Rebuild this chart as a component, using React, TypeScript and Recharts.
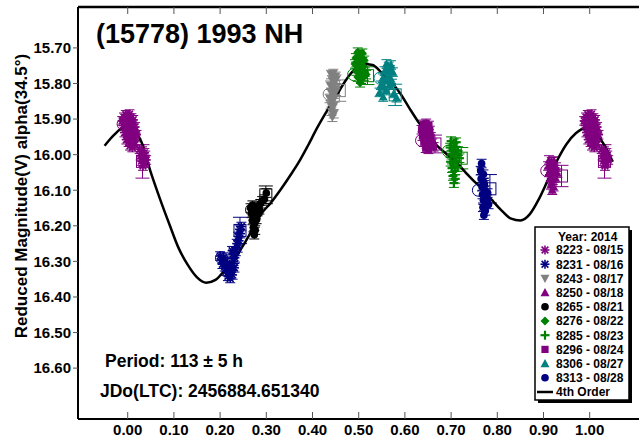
import React from "react";
import { ComposedChart, Scatter, Line, XAxis, YAxis, ErrorBar } from "recharts";

type Pt = [number, number];

const PHASE_TICKS = [0, 0.1, 0.2, 0.3, 0.4, 0.5, 0.6, 0.7, 0.8, 0.9, 1.0];
const MAG_TICKS = [15.7, 15.8, 15.9, 16.0, 16.1, 16.2, 16.3, 16.4, 16.5, 16.6];

// 4th order fourier fit
const fit4th: Pt[] = [
  [-0.05, 15.975], [-0.03, 15.945], [-0.01, 15.926], [0.01, 15.93], [0.03, 15.965],
  [0.05, 16.05], [0.07, 16.125], [0.09, 16.195], [0.11, 16.262], [0.13, 16.31],
  [0.15, 16.345], [0.17, 16.36], [0.19, 16.352], [0.21, 16.325], [0.23, 16.295],
  [0.25, 16.255], [0.27, 16.21], [0.29, 16.165], [0.31, 16.135], [0.33, 16.1],
  [0.35, 16.062], [0.37, 16.022], [0.39, 15.975], [0.41, 15.925], [0.43, 15.88],
  [0.45, 15.838], [0.47, 15.795], [0.49, 15.762], [0.51, 15.745], [0.53, 15.748],
  [0.55, 15.77], [0.57, 15.795], [0.59, 15.828], [0.61, 15.87], [0.63, 15.91],
  [0.65, 15.945], [0.67, 15.975], [0.69, 15.998], [0.71, 16.02], [0.73, 16.048],
  [0.75, 16.075], [0.77, 16.1], [0.79, 16.13], [0.81, 16.158], [0.83, 16.18],
  [0.85, 16.185], [0.87, 16.168], [0.89, 16.125], [0.91, 16.07], [0.93, 16.015],
  [0.95, 15.97], [0.97, 15.94], [0.99, 15.926], [1.01, 15.935], [1.03, 15.97],
  [1.05, 16.02],
];

const s8223: Pt[] = [
  [-0.012, 15.905], [-0.008, 15.895], [-0.004, 15.888], [0.0, 15.892], [0.004, 15.886],
  [0.008, 15.897], [0.012, 15.902], [-0.01, 15.918], [-0.005, 15.925], [0.001, 15.912],
  [0.006, 15.92], [0.011, 15.915], [0.016, 15.922], [-0.007, 15.938], [-0.002, 15.945],
  [0.003, 15.933], [0.009, 15.94], [0.014, 15.936], [0.019, 15.944], [-0.003, 15.958],
  [0.002, 15.965], [0.007, 15.955], [0.012, 15.962], [0.017, 15.952], [0.005, 15.975],
  [0.01, 15.98], [0.015, 15.972], [0.026, 15.985], [0.031, 15.99], [0.036, 15.995],
  [0.028, 16.003], [0.033, 16.008], [0.038, 16.002], [0.03, 16.018], [0.035, 16.022],
  [0.04, 16.015], [0.033, 16.032],
];
const s8231: Pt[] = [
  [0.2, 16.285], [0.204, 16.295], [0.208, 16.288], [0.212, 16.3], [0.205, 16.308],
  [0.21, 16.315], [0.215, 16.305], [0.218, 16.32], [0.213, 16.328], [0.22, 16.335],
  [0.224, 16.325], [0.217, 16.342], [0.222, 16.348], [0.227, 16.338], [0.225, 16.312],
  [0.229, 16.3], [0.232, 16.29], [0.228, 16.28], [0.234, 16.272], [0.238, 16.262],
  [0.236, 16.25], [0.241, 16.242], [0.239, 16.23], [0.244, 16.222], [0.242, 16.21],
  [0.246, 16.202], [0.231, 16.318], [0.226, 16.27],
];
const s8243: Pt[] = [
  [0.44, 15.775], [0.445, 15.772], [0.45, 15.78], [0.442, 15.79], [0.447, 15.795],
  [0.452, 15.788], [0.438, 15.805], [0.444, 15.81], [0.449, 15.815], [0.44, 15.825],
  [0.446, 15.83], [0.451, 15.822], [0.437, 15.842], [0.443, 15.848], [0.448, 15.84],
  [0.439, 15.86], [0.445, 15.865], [0.441, 15.878], [0.446, 15.885], [0.443, 15.895],
];
const s8250: Pt[] = [
  [0.912, 16.015], [0.918, 16.02], [0.923, 16.018], [0.91, 16.032], [0.916, 16.038],
  [0.921, 16.03], [0.927, 16.035], [0.912, 16.05], [0.918, 16.055], [0.924, 16.048],
  [0.93, 16.052], [0.914, 16.068], [0.92, 16.072], [0.926, 16.065], [0.916, 16.085],
  [0.922, 16.09], [0.919, 16.1],
];
const s8265: Pt[] = [
  [0.266, 16.15], [0.27, 16.142], [0.274, 16.155], [0.278, 16.148], [0.268, 16.165],
  [0.272, 16.172], [0.277, 16.168], [0.281, 16.16], [0.27, 16.185], [0.275, 16.192],
  [0.279, 16.182], [0.272, 16.205], [0.276, 16.212], [0.274, 16.225], [0.283, 16.145],
  [0.287, 16.138], [0.285, 16.155], [0.291, 16.13], [0.296, 16.125], [0.3, 16.108],
];
const s8276: Pt[] = [
  [0.498, 15.712], [0.503, 15.718], [0.508, 15.715], [0.494, 15.728], [0.5, 15.732],
  [0.506, 15.73], [0.512, 15.735], [0.492, 15.745], [0.498, 15.75], [0.504, 15.748],
  [0.51, 15.752], [0.495, 15.765], [0.501, 15.77], [0.507, 15.762], [0.513, 15.768],
  [0.498, 15.782], [0.505, 15.788], [0.511, 15.78], [0.503, 15.798], [0.516, 15.775],
];
const s8285: Pt[] = [
  [0.7, 15.962], [0.706, 15.968], [0.711, 15.965], [0.698, 15.98], [0.704, 15.985],
  [0.709, 15.978], [0.715, 15.99], [0.701, 16.0], [0.707, 16.005], [0.712, 15.998],
  [0.718, 16.01], [0.699, 16.02], [0.705, 16.025], [0.711, 16.018], [0.702, 16.038],
  [0.708, 16.045], [0.714, 16.035], [0.704, 16.06], [0.709, 16.068], [0.706, 16.08],
];
const s8296: Pt[] = [
  [0.64, 15.915], [0.646, 15.912], [0.652, 15.918], [0.636, 15.93], [0.642, 15.935],
  [0.648, 15.928], [0.654, 15.932], [0.638, 15.948], [0.644, 15.952], [0.65, 15.945],
  [0.656, 15.95], [0.641, 15.965], [0.647, 15.97], [0.653, 15.962], [0.659, 15.968],
  [0.645, 15.982], [0.651, 15.985], [0.662, 15.978],
];
const s8306: Pt[] = [
  [0.56, 15.745], [0.565, 15.752], [0.57, 15.748], [0.556, 15.765], [0.562, 15.77],
  [0.568, 15.762], [0.574, 15.768], [0.552, 15.785], [0.558, 15.79], [0.564, 15.782],
  [0.57, 15.788], [0.548, 15.805], [0.555, 15.81], [0.566, 15.805], [0.572, 15.8],
  [0.545, 15.825], [0.56, 15.82], [0.553, 15.838], [0.576, 15.828], [0.582, 15.84],
];
const s8313: Pt[] = [
  [0.766, 16.025], [0.764, 16.045], [0.77, 16.055], [0.765, 16.068], [0.771, 16.078],
  [0.767, 16.09], [0.773, 16.1], [0.768, 16.112], [0.776, 16.118], [0.77, 16.128],
  [0.775, 16.138], [0.769, 16.148], [0.774, 16.158], [0.771, 16.17], [0.778, 16.125],
  [0.781, 16.14], [0.779, 16.108], [0.772, 16.085],
];

const SESSION_LABELS = [
  "8223 - 08/15", "8231 - 08/16", "8243 - 08/17", "8250 - 08/18", "8265 - 08/21",
  "8276 - 08/22", "8285 - 08/23", "8296 - 08/24", "8306 - 08/27", "8313 - 08/28",
];
const SESSION_POINTS = [s8223, s8231, s8243, s8250, s8265, s8276, s8285, s8296, s8306, s8313];
const POINT_ERR = [0.012, 0.012, 0.012, 0.012, 0.012, 0.012, 0.012, 0.012, 0.012, 0.012];
// open circle / open square markers per session
const RING_PTS: Pt[] = [
  [-0.01, 15.914], [0.203, 16.29], [0.436, 15.83], [0.907, 16.045], [0.268, 16.155],
  [0.489, 15.775], [0.694, 15.99], [0.636, 15.96], [0.546, 15.785], [0.759, 16.1],
];
const BOX_PTS: Pt[] = [
  [0.032, 16.019], [0.243, 16.213], [0.458, 15.82], [0.939, 16.06], [0.299, 16.113],
  [0.519, 15.778], [0.722, 16.01], [0.665, 15.97], [0.579, 15.832], [0.784, 16.096],
];
const BOX_ERR = [0.047, 0.037, 0.03, 0.03, 0.025, 0.025, 0.03, 0.025, 0.03, 0.04];

const STYLES = [
  { color: "#800080", kind: "asterisk" },
  { color: "#000080", kind: "asterisk" },
  { color: "#808080", kind: "triDown" },
  { color: "#800080", kind: "triUp" },
  { color: "#000000", kind: "circle" },
  { color: "#008000", kind: "diamond" },
  { color: "#008000", kind: "plus" },
  { color: "#800080", kind: "square" },
  { color: "#008080", kind: "triUp" },
  { color: "#000080", kind: "circle" },
];

const FONT = "'Liberation Sans', Arial, sans-serif";

const drawMark = (kind: string, color: string, cx: number, cy: number, r: number) => {
  switch (kind) {
    case "asterisk":
      return (
        <g stroke={color} strokeWidth={1.6}>
          <line x1={cx - r} y1={cy} x2={cx + r} y2={cy} />
          <line x1={cx} y1={cy - r} x2={cx} y2={cy + r} />
          <line x1={cx - r * 0.75} y1={cy - r * 0.75} x2={cx + r * 0.75} y2={cy + r * 0.75} />
          <line x1={cx - r * 0.75} y1={cy + r * 0.75} x2={cx + r * 0.75} y2={cy - r * 0.75} />
        </g>
      );
    case "triDown":
      return <polygon points={`${cx - r},${cy - r * 0.8} ${cx + r},${cy - r * 0.8} ${cx},${cy + r}`} fill={color} />;
    case "triUp":
      return <polygon points={`${cx - r},${cy + r * 0.8} ${cx + r},${cy + r * 0.8} ${cx},${cy - r}`} fill={color} />;
    case "circle":
      return <circle cx={cx} cy={cy} r={r * 0.85} fill={color} />;
    case "diamond":
      return <polygon points={`${cx},${cy - r} ${cx + r},${cy} ${cx},${cy + r} ${cx - r},${cy}`} fill={color} />;
    case "plus":
      return (
        <g stroke={color} strokeWidth={2.2}>
          <line x1={cx - r} y1={cy} x2={cx + r} y2={cy} />
          <line x1={cx} y1={cy - r} x2={cx} y2={cy + r} />
        </g>
      );
    case "square":
      return <rect x={cx - r * 0.8} y={cy - r * 0.8} width={r * 1.6} height={r * 1.6} fill={color} />;
    default:
      return null;
  }
};

const toRows = (pts: Pt[], err: number, shift = 0) =>
  pts.map(([p, m]) => ({ phase: p + shift, mag: m, err }));

const BottomTick = (props: any) => {
  const { x, y, payload } = props;
  return (
    <g>
      <line x1={x} x2={x} y1={y} y2={y - 7} stroke="#555" strokeWidth={1} />
      <text x={x} y={y + 16} textAnchor="middle" fontFamily={FONT} fontWeight="bold" fontSize={15} fill="#000">
        {Number(payload.value).toFixed(2)}
      </text>
    </g>
  );
};

const TopTick = (props: any) => {
  const { x, y } = props;
  return <line x1={x} x2={x} y1={y} y2={y + 7} stroke="#555" strokeWidth={1} />;
};

const Overlay = () => {
  const rowY = (i: number) => 250 + i * 14.2;
  return (
    <svg width={639} height={439} style={{ position: "absolute", left: 0, top: 0, pointerEvents: "none" }}>
      <g fontFamily={FONT} fontWeight="bold" fill="#000">
        <text x={96} y={43} fontSize={27}>(15778) 1993 NH</text>
        <text x={105} y={367} fontSize={17.5}>Period: 113 ± 5 h</text>
        <text x={100} y={396.5} fontSize={17.5}>JDo(LTC): 2456884.651340</text>
        <text transform="rotate(-90)" x={-196} y={27} fontSize={17} textAnchor="middle">
          Reduced Magnitude(V) alpha(34.5°)
        </text>
      </g>
      <rect x={538} y={230} width={94} height={173} fill="#000" />
      <rect x={535} y={227} width={94} height={173} fill="#fff" stroke="#000" strokeWidth={1.5} />
      <g fontFamily={FONT} fontWeight="bold" fontSize={12} fill="#000">
        <text x={558} y={241}>Year: 2014</text>
        {SESSION_LABELS.map((label, i) => (
          <g key={label}>
            {drawMark(STYLES[i].kind, STYLES[i].color, 545, rowY(i), 4.5)}
            <text x={556} y={rowY(i) + 4.3}>{label}</text>
          </g>
        ))}
        <line x1={537} x2={553} y1={rowY(10)} y2={rowY(10)} stroke="#000" strokeWidth={2.5} />
        <text x={556} y={rowY(10) + 4.3}>4th Order</text>
      </g>
    </svg>
  );
};

export default function App() {
  const curve = fit4th.map(([p, m]) => ({ phase: p, mag: m }));
  return (
    <div style={{ position: "absolute", left: 0, top: 0, width: 639, height: 439, overflow: "hidden", background: "#fff" }}>
      <ComposedChart width={662} height={439} margin={{ top: 0, right: 3, bottom: 0, left: 0 }}>
        <XAxis
          xAxisId="bottom"
          dataKey="phase"
          type="number"
          domain={[-0.1076, 1.15]}
          ticks={PHASE_TICKS}
          allowDataOverflow
          height={20}
          tickSize={0}
          tickMargin={0}
          tickLine={false}
          tick={<BottomTick />}
          axisLine={{ stroke: "#000", strokeWidth: 2 }}
        />
        <XAxis
          xAxisId="top"
          orientation="top"
          dataKey="phase"
          type="number"
          domain={[-0.1076, 1.15]}
          ticks={PHASE_TICKS}
          allowDataOverflow
          height={7}
          tickSize={0}
          tickMargin={0}
          tickLine={false}
          tick={<TopTick />}
          axisLine={{ stroke: "#000", strokeWidth: 2.5 }}
        />
        <YAxis
          dataKey="mag"
          type="number"
          reversed
          domain={[15.585, 16.743]}
          ticks={MAG_TICKS}
          allowDataOverflow
          width={78}
          tickSize={5}
          tickMargin={2}
          tickLine={{ stroke: "#555" }}
          axisLine={{ stroke: "#000", strokeWidth: 2 }}
          tickFormatter={(v: number) => v.toFixed(2)}
          tick={{ fontFamily: FONT, fontWeight: "bold", fontSize: 15, fill: "#000" }}
        />
        {SESSION_POINTS.map((pts, i) => (
          <Scatter
            key={`s-${i}`}
            xAxisId="bottom"
            data={toRows(pts, POINT_ERR[i])}
            isAnimationActive={false}
            shape={(p: any) => drawMark(STYLES[i].kind, STYLES[i].color, p.cx, p.cy, 4.5)}
          >
            <ErrorBar dataKey="err" direction="y" width={5} stroke={STYLES[i].color} strokeWidth={1} />
          </Scatter>
        ))}
        <Scatter
          xAxisId="bottom"
          data={toRows(s8223, POINT_ERR[0], 1)}
          isAnimationActive={false}
          shape={(p: any) => drawMark("asterisk", STYLES[0].color, p.cx, p.cy, 4.5)}
        >
          <ErrorBar dataKey="err" direction="y" width={5} stroke={STYLES[0].color} strokeWidth={1} />
        </Scatter>
        {RING_PTS.map((pt, i) => (
          <Scatter
            key={`r-${i}`}
            xAxisId="bottom"
            data={toRows([pt], 0)}
            isAnimationActive={false}
            shape={(p: any) => <circle cx={p.cx} cy={p.cy} r={6} fill="none" stroke={STYLES[i].color} strokeWidth={1} />}
          />
        ))}
        {BOX_PTS.map((pt, i) => (
          <Scatter
            key={`b-${i}`}
            xAxisId="bottom"
            data={i === 0 ? [...toRows([pt], BOX_ERR[i]), ...toRows([pt], BOX_ERR[i], 1)] : toRows([pt], BOX_ERR[i])}
            isAnimationActive={false}
            shape={(p: any) => <rect x={p.cx - 6} y={p.cy - 6} width={12} height={12} fill="none" stroke={STYLES[i].color} strokeWidth={1} />}
          >
            <ErrorBar dataKey="err" direction="y" width={7} stroke={STYLES[i].color} strokeWidth={1} />
          </Scatter>
        ))}
        <Line
          xAxisId="bottom"
          data={curve}
          dataKey="mag"
          type="monotone"
          stroke="#000"
          strokeWidth={2.5}
          dot={false}
          isAnimationActive={false}
        />
      </ComposedChart>
      <Overlay />
    </div>
  );
}
